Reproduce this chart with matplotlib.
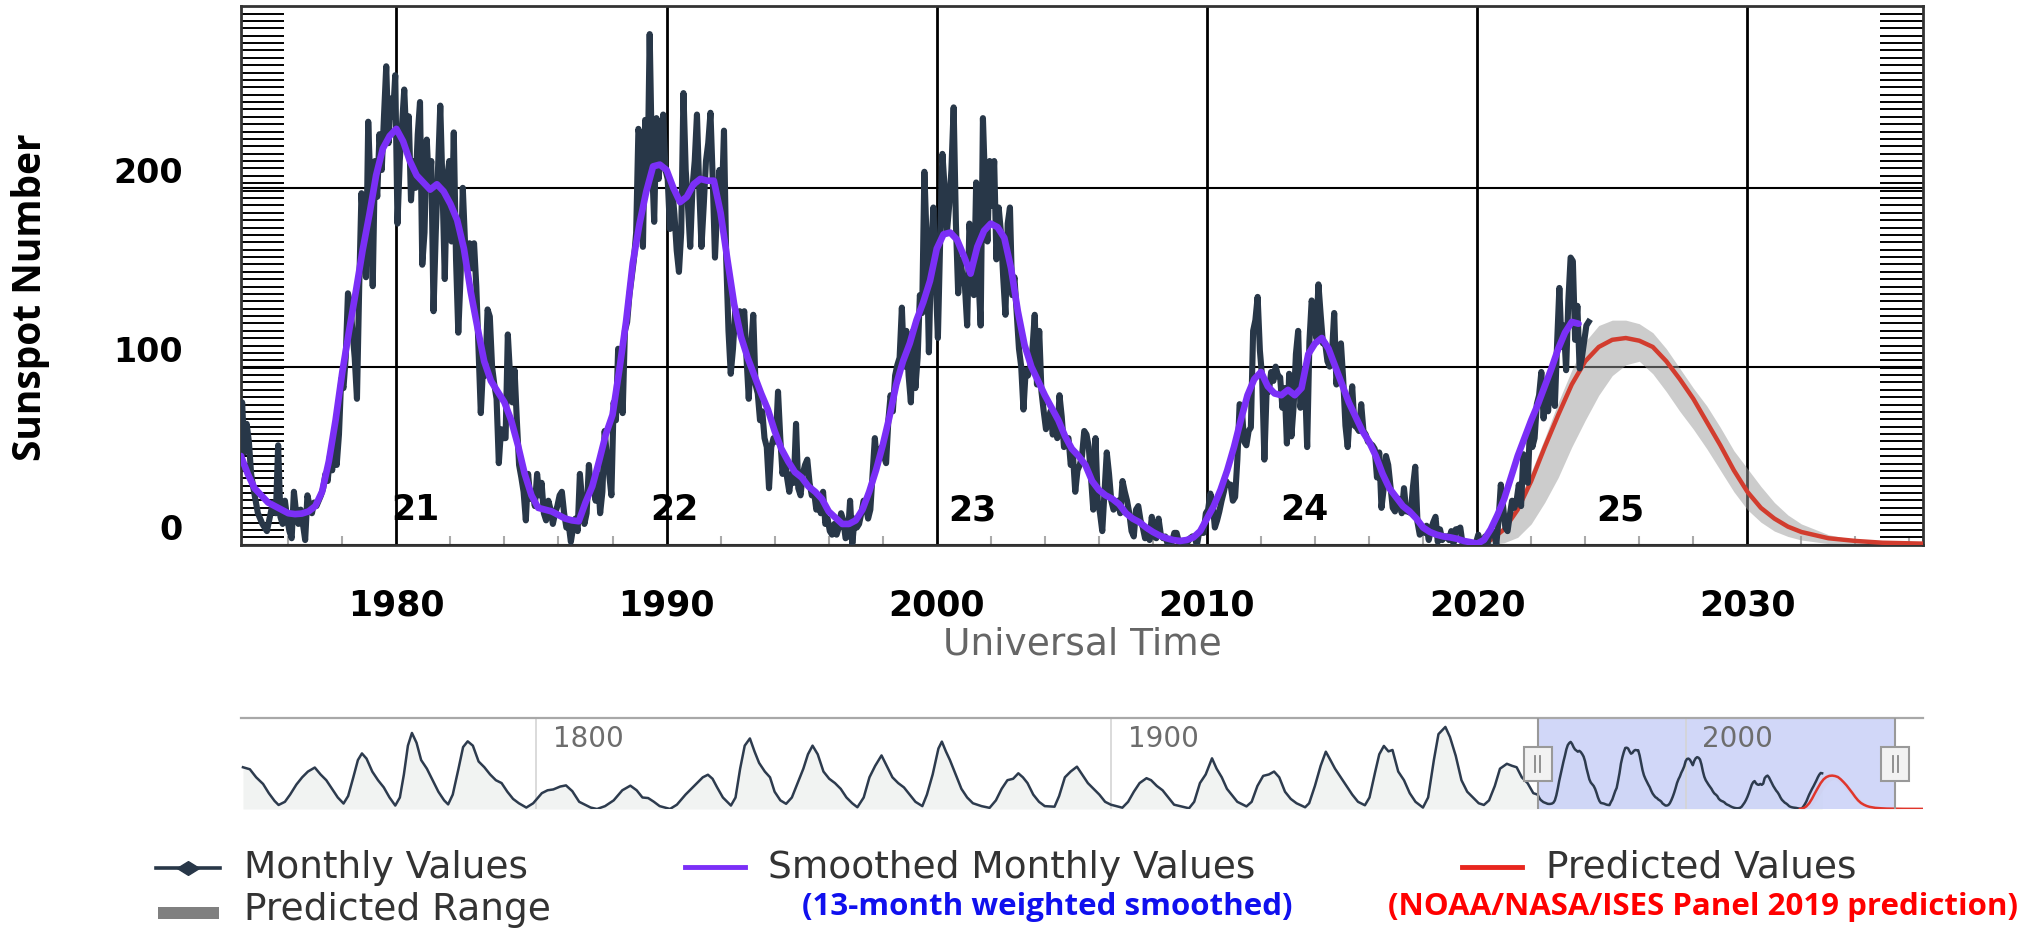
import numpy as np
import matplotlib
matplotlib.use("Agg")
import matplotlib.pyplot as plt
import matplotlib.transforms as mtransforms
from matplotlib.lines import Line2D
from matplotlib.patches import Rectangle
from matplotlib.ticker import MultipleLocator

plt.rcParams["font.family"] = "DejaVu Sans"

# Monthly mean sunspot number, one row per year starting January 1974
monthly_start = 1974
monthly_by_year = [
    [55, 48, 45, 80, 52, 68, 58, 40, 32, 25, 18, 15],
    [12, 10, 8, 14, 20, 24, 18, 56, 16, 12, 25, 15],
    [8, 4, 30, 18, 12, 20, 12, 3, 28, 22, 18, 24],
    [22, 25, 28, 32, 40, 36, 50, 42, 62, 45, 62, 93],
    [88, 105, 141, 135, 120, 105, 82, 145, 197, 175, 150, 237],
    [200, 145, 215, 195, 230, 210, 240, 268, 225, 250, 240, 263],
    [180, 215, 235, 255, 225, 240, 193, 215, 200, 230, 248, 157],
    [175, 227, 200, 215, 131, 175, 210, 246, 200, 149, 205, 215],
    [170, 231, 160, 119, 150, 200, 169, 160, 169, 155, 169, 145],
    [110, 74, 100, 95, 132, 128, 100, 90, 82, 46, 65, 60],
    [60, 118, 95, 80, 98, 70, 45, 38, 30, 14, 40, 26],
    [30, 22, 40, 28, 35, 18, 14, 25, 20, 12, 18, 22],
    [28, 30, 18, 10, 12, 2, 10, 15, 8, 40, 25, 12],
    [18, 45, 30, 35, 25, 40, 18, 30, 64, 50, 40, 28],
    [80, 70, 110, 95, 74, 120, 125, 140, 150, 160, 175, 233],
    [225, 167, 238, 200, 286, 215, 181, 239, 205, 225, 241, 210],
    [205, 177, 200, 185, 165, 153, 175, 253, 210, 190, 167, 200],
    [215, 241, 200, 167, 190, 215, 225, 242, 205, 161, 190, 210],
    [190, 232, 160, 120, 96, 110, 131, 120, 131, 125, 131, 105],
    [82, 110, 129, 90, 85, 70, 75, 60, 55, 32, 55, 60],
    [58, 86, 60, 40, 50, 38, 30, 40, 35, 68, 32, 28],
    [40, 45, 48, 35, 28, 30, 20, 25, 18, 30, 12, 15],
    [8, 6, 12, 6, 10, 18, 14, 4, 5, 25, 1, 15],
    [10, 12, 18, 25, 22, 15, 20, 40, 60, 45, 50, 55],
    [50, 46, 70, 84, 75, 95, 101, 105, 133, 100, 120, 95],
    [80, 120, 88, 105, 140, 130, 209, 170, 108, 165, 189, 150],
    [116, 170, 219, 200, 175, 190, 210, 245, 180, 141, 160, 150],
    [145, 123, 180, 165, 140, 203, 150, 123, 239, 200, 170, 215],
    [190, 215, 160, 189, 175, 150, 129, 180, 189, 140, 150, 130],
    [110, 100, 76, 98, 95, 100, 110, 129, 90, 120, 86, 75],
    [65, 70, 75, 62, 70, 60, 84, 72, 55, 58, 60, 45],
    [50, 30, 42, 45, 50, 64, 62, 55, 38, 20, 60, 25],
    [18, 8, 30, 52, 40, 25, 20, 22, 25, 18, 36, 30],
    [25, 18, 8, 5, 20, 22, 14, 10, 4, 6, 3, 16],
    [5, 4, 15, 6, 4, 5, 1, 0, 2, 7, 7, 2],
    [2, 2, 1, 2, 4, 5, 5, 0, 7, 7, 7, 18],
    [20, 29, 24, 10, 14, 19, 25, 30, 36, 34, 34, 25],
    [27, 48, 79, 76, 58, 56, 64, 66, 120, 126, 139, 109],
    [94, 48, 87, 86, 97, 92, 100, 95, 94, 77, 88, 57],
    [96, 61, 78, 107, 120, 77, 86, 92, 55, 114, 137, 130],
    [116, 146, 129, 113, 113, 103, 100, 107, 130, 90, 104, 113],
    [93, 67, 55, 75, 89, 67, 66, 64, 79, 64, 62, 58],
    [57, 56, 54, 38, 52, 21, 32, 50, 45, 33, 21, 19],
    [26, 26, 18, 32, 19, 19, 18, 33, 44, 13, 6, 8],
    [7, 11, 3, 9, 13, 16, 2, 9, 3, 5, 5, 3],
    [8, 1, 9, 9, 10, 1, 1, 0.5, 1, 0.4, 0.5, 1.5],
    [6, 0.2, 1.5, 5, 0.2, 6, 6, 7.5, 0.6, 14, 34, 22],
    [10, 8, 17, 25, 21, 25, 34, 22, 51, 37, 35, 68],
    [55, 60, 79, 84, 97, 71, 91, 75, 96, 96, 78, 113],
    [144, 111, 123, 98, 137, 161, 159, 115, 134, 99, 105, 114],
    [123, 125],
]

# 13-month smoothed values, one every quarter from 1974.25
smooth_start = 1974.25
smoothed = [
    50, 40, 32,
    28, 24, 22, 20,
    18, 17.5, 17.8, 19,
    22, 30, 47, 70,
    97, 120, 142, 165,
    185, 207, 222, 229,
    233, 226, 215, 207,
    203, 199, 202, 198,
    191, 182, 166, 142,
    122, 103, 92, 86,
    80, 70, 56, 40,
    28, 21, 20, 19,
    17, 15, 14, 13.5,
    24, 33, 47, 62,
    73, 98, 125, 158,
    180, 198, 212, 213,
    210, 200, 192, 195,
    202, 205, 204, 204,
    186, 160, 135, 117,
    105, 95, 85, 76,
    64, 54, 47, 41,
    38, 33, 30, 26,
    19, 15.5, 12, 12,
    14, 20, 30, 42,
    56, 72, 90, 103,
    113, 126, 136, 148,
    166, 174, 175, 171,
    162, 152, 167, 176,
    180, 178, 172, 155,
    131, 112, 100, 92,
    84, 77, 70, 61,
    54, 50, 45, 36,
    31, 28, 26, 23,
    18, 15, 13, 10,
    7.5, 5.5, 4, 3,
    2.5, 3, 4.5, 8,
    15, 22, 31, 42,
    55, 70, 84, 93,
    97, 89, 85, 84,
    87, 84, 88, 107,
    113, 116, 110, 100,
    90, 80, 72, 64,
    58, 50, 40, 32,
    27, 22, 19, 15,
    10, 7.5, 6, 5,
    4.5, 3.7, 2.5, 1.8,
    1.0, 3, 9, 17,
    26, 38, 50, 60,
    70, 79, 89, 99,
    110, 119, 125, 124,
]

# Cycle 25 prediction with its range
pred_years = [2019.9, 2020.5, 2021.0, 2021.5, 2022.0, 2022.5, 2023.0, 2023.5,
              2024.0, 2024.5, 2025.0, 2025.5, 2026.0, 2026.5, 2027.0, 2027.5,
              2028.0, 2028.5, 2029.0, 2029.5, 2030.0, 2030.5, 2031.0, 2031.5,
              2032.0, 2033.0, 2034.0, 2035.0, 2036.5, 2038.0, 2041.3]
pred_values = [0.3, 3, 9, 20, 36, 55, 73, 90,
               103, 111, 115, 116, 114.5, 111, 103, 93,
               82, 69, 56, 42, 30, 21, 15, 10.5,
               7.5, 4, 2.5, 1.5, 1, 0.6, 0.4]
pred_high = [0.5, 4, 11, 24, 41, 60, 80, 98,
             114, 123, 126, 126, 124, 119, 110, 99,
             88, 78, 66, 53, 43, 33, 24, 17,
             12, 6, 3, 2, 1.5, 1, 0.6]
pred_low = [0, 0.5, 1.5, 4.5, 12, 24, 38, 55,
            70, 84, 95, 101, 103, 96, 86, 75,
            65, 54, 42, 30, 20, 13, 8, 5,
            3, 1, 0.3, 0, 0, 0, 0]

# Long smoothed record shown in the overview strip (up to 1974)
hist_years = [
    1749.0, 1750.2, 1751.3, 1752.5, 1753.5, 1754.5, 1755.2,
    1756.3, 1757.2, 1758.3, 1759.3, 1760.3, 1761.5, 1762.5, 1763.5, 1764.5, 1765.5, 1766.5,
    1767.3, 1768.2, 1769.0, 1769.7, 1770.5, 1771.5, 1772.5, 1773.5, 1774.5, 1775.5,
    1776.3, 1777.0, 1777.7, 1778.4, 1779.2, 1780.0, 1781.0, 1782.0, 1783.0, 1784.0, 1784.7,
    1785.5, 1786.5, 1787.3, 1788.1, 1789.0, 1790.0, 1791.0, 1792.0, 1793.0, 1794.0, 1795.0, 1796.0, 1797.0, 1798.3,
    1799.5, 1801.0, 1802.0, 1803.0, 1804.2, 1805.2, 1806.3, 1807.5, 1808.5, 1809.5, 1810.6,
    1812.0, 1813.5, 1815.0, 1816.4, 1817.5, 1818.5, 1819.5, 1820.5, 1821.5, 1823.3,
    1824.5, 1826.0, 1827.5, 1829.0, 1829.9, 1830.7, 1831.5, 1832.5, 1833.9,
    1834.7, 1835.5, 1836.3, 1837.2, 1838.0, 1838.8, 1839.8, 1840.7, 1841.5, 1842.5, 1843.5,
    1844.5, 1845.5, 1846.5, 1847.3, 1848.1, 1849.0, 1850.0, 1851.0, 1852.0, 1853.0, 1854.0, 1855.0, 1855.9,
    1857.0, 1858.0, 1859.0, 1860.1, 1861.0, 1862.0, 1863.0, 1864.0, 1865.0, 1866.0, 1867.2,
    1868.0, 1869.0, 1870.0, 1870.6, 1871.3, 1872.0, 1873.0, 1874.0, 1875.0, 1876.0, 1877.5, 1878.9,
    1880.0, 1881.0, 1882.0, 1883.0, 1883.9, 1884.7, 1885.5, 1886.5, 1887.5, 1888.5, 1890.2,
    1891.0, 1892.0, 1893.0, 1894.1, 1895.0, 1896.0, 1897.0, 1898.0, 1899.0, 1900.0, 1902.0,
    1903.0, 1904.0, 1905.0, 1906.2, 1907.0, 1908.0, 1909.0, 1910.0, 1911.0, 1913.6,
    1914.5, 1915.5, 1916.5, 1917.6, 1918.4, 1919.3, 1920.2, 1921.0, 1922.0, 1923.6,
    1924.5, 1925.5, 1926.5, 1927.5, 1928.4, 1929.3, 1930.3, 1931.3, 1932.3, 1933.8,
    1934.5, 1935.5, 1936.5, 1937.4, 1938.2, 1939.0, 1940.0, 1941.0, 1942.0, 1943.0, 1944.2,
    1945.0, 1946.0, 1946.7, 1947.5, 1948.3, 1949.0, 1950.0, 1951.0, 1952.0, 1953.0, 1954.3,
    1955.2, 1956.2, 1957.0, 1958.2, 1959.0, 1960.0, 1961.0, 1962.0, 1963.0, 1964.0, 1964.9,
    1965.8, 1966.8, 1967.7, 1968.9, 1969.8, 1970.6, 1971.5, 1972.5, 1973.5,
]
hist_values = [
    145, 138, 110, 87, 55, 28, 14,
    25, 50, 85, 110, 130, 144, 120, 100, 70, 40, 19,
    45, 110, 170, 193, 175, 130, 100, 75, 40, 12,
    40, 120, 220, 264, 230, 170, 140, 100, 60, 30, 16,
    50, 140, 215, 235, 220, 165, 145, 120, 100, 90, 60, 35, 20, 5,
    20, 55, 65, 68, 78, 82, 62, 25, 15, 5, 0,
    10, 30, 65, 81, 65, 40, 38, 25, 10, 0.2,
    15, 50, 80, 110, 119, 105, 75, 40, 12,
    40, 140, 220, 245, 200, 160, 130, 110, 60, 30, 18,
    40, 90, 140, 190, 220, 190, 130, 105, 90, 70, 40, 20, 6,
    40, 110, 150, 186, 150, 110, 90, 75, 50, 25, 10,
    50, 120, 210, 234, 200, 170, 120, 70, 40, 20, 10, 4,
    30, 70, 100, 105, 124, 110, 90, 50, 25, 10, 8,
    45, 110, 130, 147, 120, 90, 70, 50, 25, 15, 4.5,
    25, 60, 90, 107, 100, 80, 65, 40, 15, 2.5,
    25, 90, 120, 176, 140, 110, 70, 50, 25, 9,
    25, 80, 115, 120, 130, 110, 60, 35, 20, 6,
    20, 80, 150, 199, 170, 140, 110, 80, 50, 25, 13,
    40, 130, 190, 219, 200, 205, 130, 100, 55, 25, 5,
    40, 170, 260, 285, 250, 185, 100, 60, 40, 20, 14,
    30, 80, 140, 157, 150, 145, 110, 90, 55,
]

cycle_numbers = ["21", "22", "23", "24", "25"]
cycle_label_years = [1980.7, 1990.3, 2001.3, 2013.6, 2025.3]

decade_ticks = [1980, 1990, 2000, 2010, 2020, 2030]
y_ticks = [0, 100, 200]
nav_ticks = [1800, 1900, 2000]

view_start, view_end = 1974.25, 2036.5

monthly = np.concatenate([np.asarray(r, dtype=float) for r in monthly_by_year])
t_month = monthly_start + (np.arange(len(monthly)) + 0.5) / 12
t_smooth = smooth_start + 0.25 * np.arange(len(smoothed))

C_MONTH = "#283748"
C_SMOOTH = "#7b2ff7"
C_PRED = "#d23c2e"

W, H = 2039, 929
fig = plt.figure(figsize=(W / 100, H / 100), dpi=100)


def px_box(x0, y0, x1, y1):
    return [x0 / W, 1 - y1 / H, (x1 - x0) / W, (y1 - y0) / H]


ax = fig.add_axes(px_box(241, 6.5, 1923, 546.4))
nav = fig.add_axes(px_box(241, 719, 1923, 810))

# ---- main chart ----
hatch_y = np.linspace(0.015, 0.985, 72)
ax.hlines(hatch_y, 0, 0.0256, transform=ax.transAxes, color="black", lw=1.4, zorder=1.5)
ax.hlines(hatch_y, 0.9744, 1.0, transform=ax.transAxes, color="black", lw=1.4, zorder=1.5)

ax.fill_between(pred_years, pred_low, pred_high, color="#9a9a9a", alpha=0.5, lw=0, zorder=2)
ax.plot(pred_years, pred_values, color=C_PRED, lw=3.2, zorder=3)
ax.plot(t_month, monthly, color=C_MONTH, lw=4.4, zorder=4)
ax.plot(t_smooth, smoothed, color=C_SMOOTH, lw=4.8, zorder=5, solid_capstyle="round")

for num, yr in zip(cycle_numbers, cycle_label_years):
    ax.text(yr, 14.5, num, ha="center", va="baseline", fontsize=25,
            fontweight="bold", color="black", zorder=6)

ax.set_xlim(view_start, view_end)
ax.set_ylim(0, 302)

ax.set_xticks(decade_ticks)
ax.set_xticklabels([str(d) for d in decade_ticks], fontsize=25, fontweight="bold")
ax.xaxis.set_minor_locator(MultipleLocator(2))
ax.tick_params(axis="x", which="major", length=0, pad=30)
ax.tick_params(axis="x", which="minor", direction="in", length=6.5, width=1.5, color="#aaaaaa")

ax.set_yticks(y_ticks)
ax.set_yticklabels([str(v) for v in y_ticks], fontsize=24, fontweight="bold", va="baseline")
ax.tick_params(axis="y", length=0, pad=41.8)
lift = mtransforms.ScaledTranslation(0, 6 / 100, fig.dpi_scale_trans)
for lab in ax.get_yticklabels():
    lab.set_transform(lab.get_transform() + lift)

ax.xaxis.grid(True, color="black", lw=2)
ax.yaxis.grid(True, color="black", lw=1.5)
ax.set_axisbelow(True)
for s in ax.spines.values():
    s.set_linewidth(2)
    s.set_color("#333333")

ax.set_xlabel("Universal Time", fontsize=27, color="#666666")
ax.xaxis.set_label_coords(0.5, -0.149)

fig.text(31 / W, 1 - 297 / H, "Sunspot Number", rotation=90, ha="center", va="center",
         fontsize=28, fontweight="bold", family=["Open Sans", "DejaVu Sans"])

# ---- overview strip ----
nav_x = list(hist_years) + list(t_smooth)
nav_y = list(hist_values) + list(smoothed)
nav.fill_between(nav_x, 0, nav_y, color="#f1f3f2", lw=0, zorder=1)
nav.fill_between(pred_years, pred_low, pred_high, color="#e8a0a0", alpha=0.3, lw=0, zorder=1)
nav.axvspan(view_start, view_end, color="#c9d1f7", alpha=0.85, lw=0, zorder=2)
for x in nav_ticks:
    nav.axvline(x, color="#d4d4d4", lw=1.2, zorder=2.5)
    nav.annotate(str(x), xy=(x, 0.692), xycoords=("data", "axes fraction"),
                 xytext=(12, 0), textcoords="offset points", fontsize=20,
                 color="#6d6d6d", va="baseline", ha="left")
nav.plot(nav_x, nav_y, color="#2d3b4e", lw=1.8, zorder=3)
nav.plot(pred_years, pred_values, color="#e0362c", lw=1.8, zorder=3)

for x in (view_start, view_end):
    nav.axvline(x, color="#999999", lw=1.5, zorder=4)
    nav.add_patch(Rectangle((x - 2.45, 97), 4.9, 118, facecolor="#f2f2f2",
                            edgecolor="#999999", lw=1.5, zorder=5, clip_on=False))
    for dx in (-0.45, 0.45):
        nav.plot([x + dx, x + dx], [128, 184], color="#888888", lw=1.3, zorder=6)

nav.set_xlim(1748.66, 2041.3)
nav.set_ylim(0, 316)
nav.set_xticks([])
nav.set_yticks([])
for side in ("left", "right", "bottom"):
    nav.spines[side].set_visible(False)
nav.spines["top"].set_color("#a8a8a8")
nav.spines["top"].set_linewidth(1.6)

# ---- legend ----
def fig_y(py):
    return 1 - py / H


fig.add_artist(Line2D([156 / W, 220 / W], [fig_y(869)] * 2, color=C_MONTH, lw=2.6))
fig.add_artist(Line2D([188 / W], [fig_y(869)], color=C_MONTH, lw=0, ms=16,
                      marker=[(-1, 0), (0, 0.62), (1, 0), (0, -0.62), (-1, 0)]))
fig.text(243.6 / W, fig_y(878), "Monthly Values", fontsize=27, color="#333333", va="baseline")

fig.add_artist(Line2D([684.7 / W, 745 / W], [fig_y(868)] * 2, color=C_SMOOTH, lw=3.5))
fig.text(767.6 / W, fig_y(878), "Smoothed Monthly Values", fontsize=27, color="#333333", va="baseline")

fig.add_artist(Line2D([1462 / W, 1522 / W], [fig_y(868)] * 2, color="#e8261e", lw=3.5))
fig.text(1546 / W, fig_y(878), "Predicted Values", fontsize=27, color="#333333", va="baseline")

fig.add_artist(Rectangle((158 / W, fig_y(920)), 60.6 / W, 12 / H, facecolor="#808080",
                         edgecolor="none", transform=fig.transFigure))
fig.text(243.6 / W, fig_y(920), "Predicted Range", fontsize=27, color="#333333", va="baseline")

fig.text(1047 / W, fig_y(907), "(13-month weighted smoothed)", fontsize=22.5,
         fontweight="bold", color="#1010ee", ha="center", va="center",
         family=["Open Sans", "DejaVu Sans"])
fig.text(1703 / W, fig_y(907), "(NOAA/NASA/ISES Panel 2019 prediction)", fontsize=22.5,
         fontweight="bold", color="#ff0000", ha="center", va="center",
         family=["Open Sans", "DejaVu Sans"])

fig.savefig("out.png", dpi=100)
